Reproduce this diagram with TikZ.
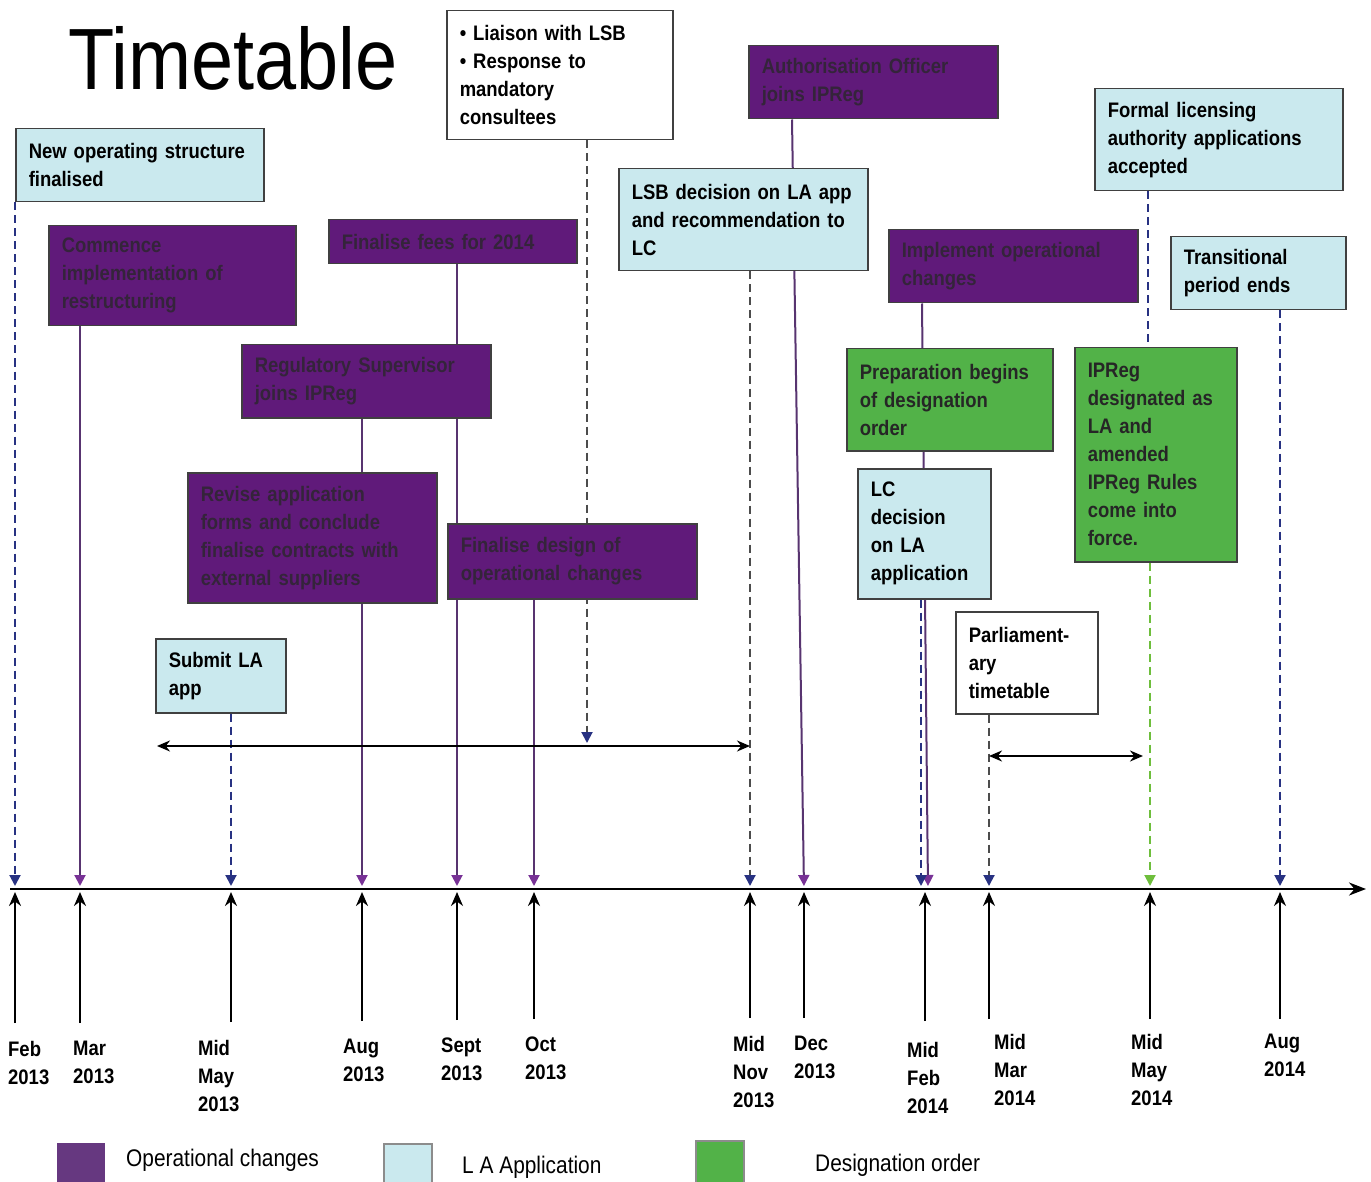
\documentclass[tikz,border=0pt]{standalone}
\usepackage{fontspec}
\newfontfamily\narrowsans{Liberation Sans}[FakeStretch=0.88, BoldFeatures={FakeStretch=0.88}]
\newfontfamily\titlesans{Liberation Sans}[FakeStretch=0.87]
\usetikzlibrary{arrows.meta,backgrounds}
\hyphenpenalty=10000
\definecolor{opfill}{RGB}{96,26,122}
\definecolor{optext}{RGB}{52,36,58}
\definecolor{lafill}{RGB}{202,233,238}
\definecolor{dofill}{RGB}{82,178,72}
\definecolor{lablue}{RGB}{40,50,130}
\definecolor{oppurple}{RGB}{88,52,112}
\definecolor{optip}{RGB}{120,50,150}
\definecolor{dogreen}{RGB}{110,190,60}
\definecolor{legop}{RGB}{102,56,128}
\tikzset{
  card/.style 2 args = {shape=rectangle, draw=black!75, line width=1.5pt,
                        anchor=north west, minimum width=#1, minimum height=#2,
                        text width=#1-26, inner xsep=13pt, align=left,
                        font=\narrowsans\bfseries\fontsize{21}{28}\selectfont},
  opcard/.style 2 args   = {card={#1}{#2}, fill=opfill, text=optext},
  lacard/.style 2 args   = {card={#1}{#2}, fill=lafill},
  dcard/.style 2 args    = {card={#1}{#2}, fill=dofill, text=black!85},
  notecard/.style 2 args = {card={#1}{#2}, fill=white},
  datelbl/.style  = {anchor=north west, inner sep=0pt, align=left,
                     font=\narrowsans\bfseries\fontsize{21}{28}\selectfont},
  titletext/.style = {anchor=base west, inner sep=0pt,
                      font=\titlesans\fontsize{87}{87}\selectfont},
  legsq/.style    = {anchor=north west, minimum size=48pt, inner sep=0pt},
  legtext/.style  = {anchor=west, inner sep=0pt,
                     font=\titlesans\fontsize{24}{28}\selectfont},
  opline/.style   = {draw=oppurple, line width=2pt, shorten >=3pt,
                     -{Triangle[length=11pt,width=11pt,color=optip]}},
  laline/.style   = {draw=lablue, line width=2pt, dash pattern=on 8pt off 5pt,
                     shorten >=3pt, -{Triangle[length=11pt,width=11pt,color=lablue]}},
  doline/.style   = {laline, draw=dogreen, -{Triangle[length=11pt,width=11pt,color=dogreen]}},
  uparrow/.style  = {draw=black, line width=2pt, shorten >=3pt,
                     -{Stealth[length=14pt,width=12pt]}},
  spanarrow/.style = {draw=black, line width=2pt,
                      {Stealth[length=13pt,width=11pt]}-{Stealth[length=13pt,width=11pt]}},
  axisline/.style = {draw=black, line width=2.5pt, -{Stealth[length=17pt,width=13pt]}}
}
\begin{document}
\begin{tikzpicture}[x=1pt,y=-1pt]
\useasboundingbox (0,0) rectangle (1371,1182);

\node[titletext] (title) at (68,90) {Timetable};

% boxes above the time line
\node[lacard={248}{73}]    (newstruct) at (15,128)  {New operating structure\\finalised};
\node[opcard={247}{100}]   (commence)  at (48,225)  {Commence\\implementation of\\restructuring};
\node[opcard={248}{44}]    (fees)      at (328,219) {Finalise fees for 2014};
\node[opcard={249}{73}]    (regsup)    at (241,344) {Regulatory Supervisor\\joins IPReg};
\node[opcard={249}{130}]   (revise)    at (187,472) {Revise application\\forms and conclude\\finalise contracts with\\external suppliers};
\node[opcard={249}{75}]    (design)    at (447,523) {Finalise design of\\operational changes};
\node[notecard={226}{129}] (liaison)   at (446,10)  {\textbullet\ Liaison with LSB\\\textbullet\ Response to\\mandatory\\consultees};
\node[lacard={130}{74}]    (submit)    at (155,638) {Submit LA\\app};
\node[opcard={249}{73}]    (authof)    at (748,45)  {Authorisation Officer\\joins IPReg};
\node[lacard={249}{102}]   (lsb)       at (618,168) {LSB decision on LA app\\and recommendation to\\LC};
\node[opcard={249}{73}]    (implement) at (888,229) {Implement operational\\changes};
\node[dcard={206}{102}]    (prep)      at (846,348) {Preparation begins\\of designation\\order};
\node[lacard={133}{130}]   (lcdec)     at (857,468) {LC\\decision\\on LA\\application};
\node[notecard={142}{102}] (parl)      at (955,611) {Parliament-\\ary\\timetable};
\node[lacard={248}{102}]   (formal)    at (1094,88) {Formal licensing\\authority applications\\accepted};
\node[dcard={162}{214}]    (ipreg)     at (1074,347) {IPReg\\designated as\\LA and\\amended\\IPReg Rules\\come into\\force.};
\node[lacard={175}{73}]    (trans)     at (1170,236) {Transitional\\period ends};

% time line
\coordinate (axstart) at (10,889);
\coordinate (axend)   at (1366,889);
\coordinate (feb13) at (15,889);
\coordinate (mar13) at (80,889);
\coordinate (may13) at (231,889);
\coordinate (aug13) at (362,889);
\coordinate (sep13) at (457,889);
\coordinate (oct13) at (534,889);
\coordinate (nov13) at (750,889);
\coordinate (dec13) at (804,889);
\coordinate (feb14) at (925,889);
\coordinate (mar14) at (989,889);
\coordinate (may14) at (1150,889);
\coordinate (aug14) at (1280,889);
\draw[axisline] (axstart) -- (axend);

% dates
\node[datelbl] (lfeb13) at (8,1041)    {Feb\\2013};
\node[datelbl] (lmar13) at (73,1041)   {Mar\\2013};
\node[datelbl] (lmay13) at (198,1040)  {Mid\\May\\2013};
\node[datelbl] (laug13) at (343,1039)  {Aug\\2013};
\node[datelbl] (lsep13) at (441,1038)  {Sept\\2013};
\node[datelbl] (loct13) at (525,1037)  {Oct\\2013};
\node[datelbl] (lnov13) at (733,1036)  {Mid\\Nov\\2013};
\node[datelbl] (ldec13) at (794,1036)  {Dec\\2013};
\node[datelbl] (lfeb14) at (907,1042)  {Mid\\Feb\\2014};
\node[datelbl] (lmar14) at (994,1034)  {Mid\\Mar\\2014};
\node[datelbl] (lmay14) at (1131,1034) {Mid\\May\\2014};
\node[datelbl] (laug14) at (1264,1034) {Aug\\2014};

\draw[uparrow] ([yshift=18pt]lfeb13.north -| feb13) -- (feb13);
\draw[uparrow] ([yshift=18pt]lmar13.north -| mar13) -- (mar13);
\draw[uparrow] ([yshift=18pt]lmay13.north -| may13) -- (may13);
\draw[uparrow] ([yshift=18pt]laug13.north -| aug13) -- (aug13);
\draw[uparrow] ([yshift=18pt]lsep13.north -| sep13) -- (sep13);
\draw[uparrow] ([yshift=18pt]loct13.north -| oct13) -- (oct13);
\draw[uparrow] ([yshift=18pt]lnov13.north -| nov13) -- (nov13);
\draw[uparrow] ([yshift=18pt]ldec13.north -| dec13) -- (dec13);
\draw[uparrow] ([yshift=21pt]lfeb14.north -| feb14) -- (feb14);
\draw[uparrow] ([yshift=15pt]lmar14.north -| mar14) -- (mar14);
\draw[uparrow] ([yshift=15pt]lmay14.north -| may14) -- (may14);
\draw[uparrow] ([yshift=15pt]laug14.north -| aug14) -- (aug14);

% periods
\coordinate (consultL)   at (157,746);
\coordinate (liaisonend) at (587,746);
\coordinate (parlL)      at (989,756);
\coordinate (parlR)      at (1143,756);
\draw[spanarrow] (consultL) -- (consultL -| nov13);
\draw[spanarrow] (parlL) -- (parlR);

% connectors behind the boxes
\begin{pgfonlayer}{background}
  \draw[laline] (newstruct.south -| feb13) -- (feb13);
  \draw[opline] (commence.south -| mar13) -- (mar13);
  \draw[opline] (fees.south -| sep13) -- (sep13);
  \draw[opline] (regsup.south -| aug13) -- (aug13);
  \draw[opline] (design.south -| oct13) -- (oct13);
  \draw[laline, draw=black!70] (liaison.south -| liaisonend) -- (liaisonend);
  \draw[laline] (submit.south -| may13) -- (may13);
  \draw[opline] ([xshift=-12pt]authof.south -| dec13) -- (dec13);
  \draw[laline, draw=black!70] (lsb.south -| nov13) -- (nov13);
  \draw[opline] ([xshift=-3pt]implement.south -| feb14) -- ([xshift=3pt]feb14);
  \draw[laline] ([xshift=-4pt]lcdec.south -| feb14) -- ([xshift=-4pt]feb14);
  \draw[laline, -] ([xshift=-2pt]formal.south -| may14) -- ([xshift=-2pt]ipreg.north -| may14);
  \draw[doline] (ipreg.south -| may14) -- (may14);
  \draw[laline] (trans.south -| aug14) -- (aug14);
  \draw[laline, draw=black!70] (parl.south -| mar14) -- (mar14);
\end{pgfonlayer}

% legend
\node[legsq, fill=legop] (keyop) at (57,1143) {};
\node[legtext] (keyoptext) at (126,1160) {Operational changes};
\node[legsq, fill=lafill, draw=black!45, line width=2pt] (keyla) at (383,1143) {};
\node[legtext] (keylatext) at (462,1167) {L A Application};
\node[legsq, fill=dofill, draw=black!45, line width=2pt] (keydo) at (695,1140) {};
\node[legtext] (keydotext) at (815,1165) {Designation order};
\end{tikzpicture}
\end{document}
